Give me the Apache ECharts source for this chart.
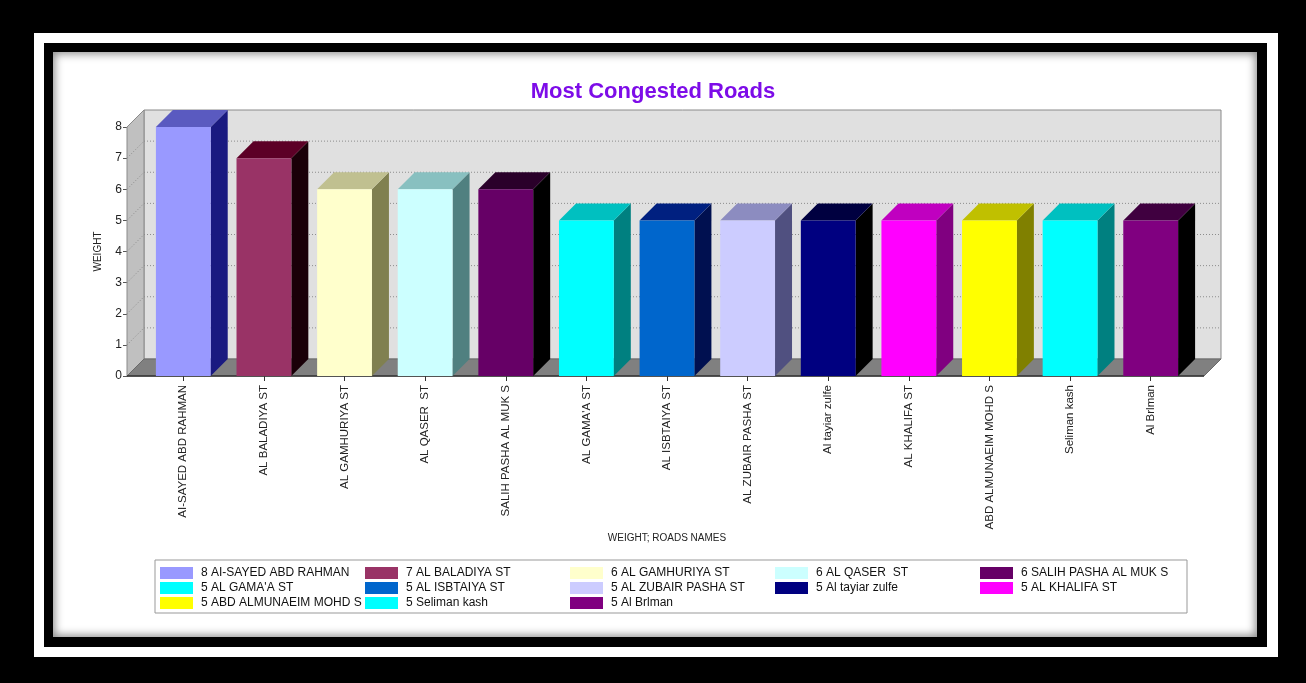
<!DOCTYPE html>
<html>
<head>
<meta charset="utf-8">
<script src="https://cdn.jsdelivr.net/npm/echarts@6/dist/echarts.min.js"></script>
<style>
  html, body { margin: 0; padding: 0; background: #000; width: 1306px; height: 683px; overflow: hidden; }
  .f1 { position: absolute; left: 34px; top: 33px; width: 1244px; height: 624px; background: #fff; }
  .f2 { position: absolute; left: 44px; top: 43px; width: 1223px; height: 604px; background: #000; }
  .f3 { position: absolute; left: 53px; top: 52px; width: 1204px; height: 585px; background: #fff;
        box-shadow: inset 0 0 9px 2px rgba(0,0,0,0.45); }
  #chart { position: absolute; left: 0; top: 0; width: 1306px; height: 683px; }
</style>
</head>
<body>
<div class="f1"></div>
<div class="f2"></div>
<div class="f3"></div>
<div id="chart"></div>
<script>
// ---- data ----
const roads = ['AI-SAYED ABD RAHMAN', 'AL BALADIYA ST', 'AL GAMHURIYA ST', 'AL QASER  ST', 'SALIH PASHA AL MUK S',
  "AL GAMA'A ST", 'AL ISBTAIYA ST', 'AL ZUBAIR PASHA ST', 'Al tayiar zulfe', 'AL KHALIFA ST',
  'ABD ALMUNAEIM MOHD S', 'Seliman kash', 'Al Brlman'];
const weights = [8, 7, 6, 6, 6, 5, 5, 5, 5, 5, 5, 5, 5];
const yTicks = [0, 1, 2, 3, 4, 5, 6, 7, 8];
const frontColors = ['#9999FF', '#993366', '#FFFFCC', '#CCFFFF', '#660066', '#00FFFF', '#0066CC',
  '#CCCCFF', '#000080', '#FF00FF', '#FFFF00', '#00FFFF', '#800080'];
const sideColors = ['#1a1a80', '#1a0008', '#808050', '#508080', '#000000', '#008080', '#001050',
  '#505080', '#000000', '#800080', '#808000', '#008080', '#000000'];
const topColors = ['#5a5ac0', '#5c0026', '#c0c090', '#88c0c0', '#2a002a', '#00c0c0', '#002080',
  '#8c8cc0', '#000040', '#c000c0', '#c0c000', '#00c0c0', '#400040'];

// ---- 3D look settings ----
const DEPTH = 17;      // px depth offset of the 3D effect
const AXIS_OFF = 16;   // y axis offset from grid
const RIGHT_EXT = 13;  // floor extension beyond grid on the right
const BAR_RATIO = 0.68;
const FONT = 'Liberation Sans, Arial, sans-serif';

const legendNames = roads.map((r, i) => weights[i] + ' ' + r);

function renderWalls(params, api) {
  const cs = params.coordSys;
  const x0 = cs.x, x1 = cs.x + cs.width, yT = cs.y, yB = cs.y + cs.height;
  const L = x0 - AXIS_OFF, R = x1 + RIGHT_EXT, D = DEPTH;
  const children = [
    { type: 'rect', shape: { x: L + D, y: yT - D, width: R - L, height: yB - yT },
      style: { fill: '#e0e0e0', stroke: '#8a8a8a', lineWidth: 1 } },
    { type: 'polygon', shape: { points: [[L, yB], [L, yT], [L + D, yT - D], [L + D, yB - D]] },
      style: { fill: '#c0c0c0', stroke: '#8a8a8a', lineWidth: 1 } }
  ];
  yTicks.forEach(v => {
    if (v <= 0 || v >= yTicks[yTicks.length - 1]) return;
    const y = api.coord([0, v])[1];
    children.push({ type: 'line', shape: { x1: L + D, y1: y - D, x2: R + D, y2: y - D },
      style: { stroke: '#8c8c8c', lineWidth: 1, lineDash: [1, 2] } });
    children.push({ type: 'line', shape: { x1: L, y1: y, x2: L + D, y2: y - D },
      style: { stroke: '#8c8c8c', lineWidth: 1, lineDash: [1, 2] } });
  });
  children.push({ type: 'polygon', shape: { points: [[L, yB], [R, yB], [R + D, yB - D], [L + D, yB - D]] },
    style: { fill: '#808080', stroke: '#6a6a6a', lineWidth: 1 } });
  children.push({ type: 'line', shape: { x1: L, y1: yB, x2: R, y2: yB },
    style: { stroke: '#333', lineWidth: 1.5 } });
  return { type: 'group', children };
}

function makeBarRenderer(i) {
  return function (params, api) {
    const ci = api.value(0), v = api.value(1);
    const top = api.coord([ci, v]);
    const base = api.coord([ci, 0]);
    const bw = api.size([1, 0])[0] * BAR_RATIO;
    const xl = top[0] - bw / 2, xr = top[0] + bw / 2;
    const yt = top[1], yb = base[1], D = DEPTH;
    return {
      type: 'group',
      children: [
        { type: 'polygon', shape: { points: [[xr, yt], [xr + D, yt - D], [xr + D, yb - D], [xr, yb]] },
          style: { fill: sideColors[i] } },
        { type: 'polygon', shape: { points: [[xl, yt], [xr, yt], [xr + D, yt - D], [xl + D, yt - D]] },
          style: { fill: topColors[i] } },
        { type: 'rect', shape: { x: xl, y: yt, width: bw, height: yb - yt },
          style: { fill: frontColors[i] } }
      ]
    };
  };
}

const series = [{
  type: 'custom', name: '__walls', z: 1, silent: true,
  data: [[0, 0]],
  renderItem: renderWalls
}];
roads.forEach((r, i) => {
  series.push({
    type: 'custom', name: legendNames[i], z: 3,
    itemStyle: { color: frontColors[i] },
    data: [[i, weights[i]]],
    encode: { x: 0, y: 1 },
    renderItem: makeBarRenderer(i)
  });
});

const chart = echarts.init(document.getElementById('chart'), null, { renderer: 'canvas' });
chart.setOption({
  animation: false,
  backgroundColor: 'transparent',
  title: {
    text: 'Most Congested Roads', left: 'center', top: 76,
    textStyle: { color: '#7d0ce8', fontSize: 22, fontWeight: 'bold', fontFamily: FONT }
  },
  grid: { left: 143, top: 127, width: 1048, height: 249, containLabel: false },
  xAxis: {
    type: 'category', data: roads,
    name: 'WEIGHT; ROADS NAMES', nameLocation: 'middle', nameGap: 156,
    nameTextStyle: { fontSize: 10, color: '#222', fontFamily: FONT },
    axisLine: { show: false },
    axisTick: { show: true, alignWithLabel: true, length: 5, lineStyle: { color: '#333' } },
    axisLabel: { rotate: 90, fontSize: 11.5, color: '#222', margin: 9, fontFamily: FONT, interval: 0 },
    splitLine: { show: false }
  },
  yAxis: {
    type: 'value', min: 0, max: 8, interval: 1, offset: AXIS_OFF,
    name: 'WEIGHT', nameLocation: 'middle', nameGap: 24,
    nameTextStyle: { fontSize: 10, color: '#222', fontFamily: FONT },
    axisLine: { show: true, lineStyle: { color: '#555' } },
    axisTick: { show: true, length: 4, lineStyle: { color: '#555' } },
    axisLabel: { fontSize: 12, color: '#222', margin: 5, fontFamily: FONT },
    splitLine: { show: false }
  },
  legend: {
    data: legendNames,
    orient: 'horizontal', left: 155, top: 560, width: 1040,
    itemWidth: 33, itemHeight: 12, itemGap: 1, icon: 'rect',
    padding: [6, 3, 3, 5],
    borderColor: '#999', borderWidth: 1, backgroundColor: '#fff',
    selectedMode: false,
    textStyle: { fontSize: 12, color: '#111', width: 163, lineHeight: 14, fontFamily: FONT, padding: [0, 0, 0, 3] }
  },
  series
});
</script>
</body>
</html>
